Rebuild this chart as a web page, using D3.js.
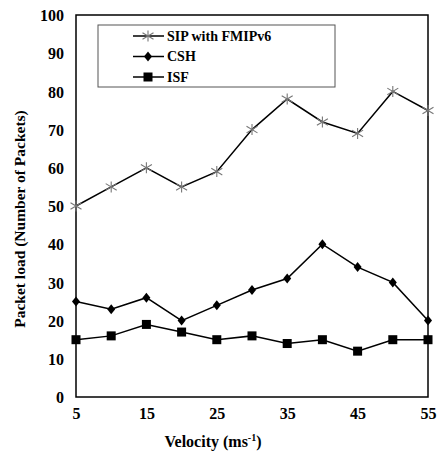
<!DOCTYPE html>
<html>
<head>
<meta charset="utf-8">
<script src="https://cdn.jsdelivr.net/npm/d3@7"></script>
<style>
  body { margin: 0; background: #fff; }
  text { font-family: "Liberation Serif", "Times New Roman", serif; font-weight: bold; }
</style>
</head>
<body>
<svg id="chart"></svg>
<script>
// velocity (ms-1)
const velocity = [5, 10, 15, 20, 25, 30, 35, 40, 45, 50, 55];
const sipFmip = [50, 55, 60, 55, 59, 70, 78, 72, 69, 80, 75];
const csh = [25, 23, 26, 20, 24, 28, 31, 40, 34, 30, 20];
const isf = [15, 16, 19, 17, 15, 16, 14, 15, 12, 15, 15];
const xTicks = [5, 15, 25, 35, 45, 55];
const yTicks = [0, 10, 20, 30, 40, 50, 60, 70, 80, 90, 100];

const series = [
    {name: "SIP with FMIPv6", values: sipFmip, marker: "star"},
    {name: "CSH", values: csh, marker: "diamond"},
    {name: "ISF", values: isf, marker: "square"}
];

const width = 440, height = 456;
const margin = {top: 15, right: 12, bottom: 59, left: 76};
const innerW = width - margin.left - margin.right;
const innerH = height - margin.top - margin.bottom;

const svg = d3.select("#chart").attr("width", width).attr("height", height);
const g = svg.append("g").attr("transform", `translate(${margin.left},${margin.top})`);

const x = d3.scaleLinear().domain([5, 55]).range([0, innerW]);
const y = d3.scaleLinear().domain([0, 100]).range([innerH, 0]);

// axes, no tick marks
const xAxis = d3.axisBottom(x).tickValues(xTicks).tickSize(0).tickPadding(11);
const yAxis = d3.axisLeft(y).tickValues(yTicks).tickSize(0).tickPadding(12);

g.append("g").attr("transform", `translate(0,${innerH})`).call(xAxis)
    .call(a => a.select(".domain").remove())
    .selectAll("text").style("font-size", "16px").attr("fill", "#000");
g.append("g").call(yAxis)
    .call(a => a.select(".domain").remove())
    .selectAll("text").style("font-size", "16px").attr("fill", "#000").attr("dy", "0.35em");

// plot frame
g.append("rect")
    .attr("width", innerW).attr("height", innerH)
    .attr("fill", "none").attr("stroke", "#000").attr("stroke-width", 1.5);

const line = d3.line().x((d, i) => x(velocity[i])).y(d => y(d));

function drawMarker(sel, type) {
    if (type === "star") {
        const s = 5.5;
        sel.append("path")
            .attr("d", `M0,${-s}V${s}M${-s},${-s * 0.6}L${s},${s * 0.6}M${-s},${s * 0.6}L${s},${-s * 0.6}`)
            .attr("stroke", "#777").attr("stroke-width", 1.1).attr("fill", "none");
    } else if (type === "diamond") {
        sel.append("path").attr("d", "M0,-5L4,0L0,5L-4,0Z").attr("fill", "#000");
    } else {
        sel.append("rect").attr("x", -4.5).attr("y", -4.5).attr("width", 9).attr("height", 9).attr("fill", "#000");
    }
}

series.forEach(s => {
    g.append("path").datum(s.values)
        .attr("d", line).attr("fill", "none").attr("stroke", "#000").attr("stroke-width", 1.5);
    g.selectAll(null).data(s.values).enter().append("g")
        .attr("transform", (d, i) => `translate(${x(velocity[i])},${y(d)})`)
        .each(function() { drawMarker(d3.select(this), s.marker); });
});

// legend
const legend = svg.append("g").attr("transform", "translate(98,25)");
legend.append("rect").attr("width", 237).attr("height", 62)
    .attr("fill", "#fff").attr("stroke", "#555").attr("stroke-width", 1);
series.forEach((s, i) => {
    const row = legend.append("g").attr("transform", `translate(0,${11 + i * 20.5})`);
    row.append("line").attr("x1", 35).attr("x2", 66).attr("stroke", "#000").attr("stroke-width", 1.5);
    drawMarker(row.append("g").attr("transform", "translate(50,0)"), s.marker);
    row.append("text").attr("x", 69).attr("dy", "0.35em").style("font-size", "14px").text(s.name);
});

// axis titles
svg.append("text")
    .attr("transform", "translate(25,219) rotate(-90)")
    .attr("text-anchor", "middle").style("font-size", "15.5px")
    .text("Packet load (Number of Packets)");

const xt = svg.append("text")
    .attr("x", 213).attr("y", 447).attr("text-anchor", "middle").style("font-size", "16px");
xt.append("tspan").text("Velocity (ms");
xt.append("tspan").attr("dy", "-6").style("font-size", "10px").text("-1");
xt.append("tspan").attr("dy", "6").text(")");
</script>
</body>
</html>
